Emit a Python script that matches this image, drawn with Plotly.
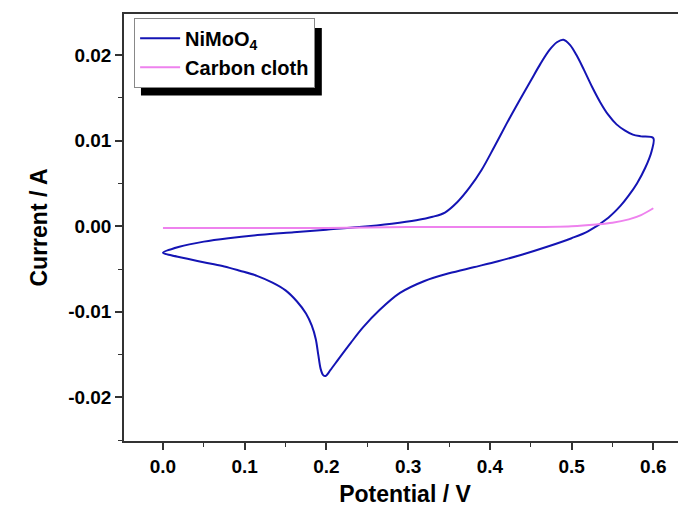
import plotly.graph_objects as go

# NiMoO4 cyclic voltammogram (anodic sweep then cathodic sweep)
nimoo4_fwd_potential = [0.0, 0.02, 0.05, 0.08, 0.12, 0.16, 0.20, 0.24, 0.28, 0.31, 0.33, 0.345,
                        0.36, 0.375, 0.39, 0.405, 0.42, 0.435, 0.45, 0.462, 0.473, 0.482, 0.49,
                        0.498, 0.506, 0.515, 0.525, 0.535, 0.545, 0.555, 0.565, 0.575, 0.585, 0.6]
nimoo4_fwd_current = [-0.0031, -0.0024, -0.0018, -0.0014, -0.0010, -0.0007, -0.0004, -0.0001,
                      0.0003, 0.0007, 0.0011, 0.0016, 0.0028, 0.0045, 0.0066, 0.0092, 0.0119,
                      0.0145, 0.0170, 0.0190, 0.0206, 0.0215, 0.0218, 0.0212, 0.0200, 0.0183,
                      0.0163, 0.0145, 0.0130, 0.0119, 0.0112, 0.0107, 0.0105, 0.0103]
nimoo4_rev_potential = [0.598, 0.59, 0.58, 0.57, 0.56, 0.545, 0.52, 0.50, 0.47, 0.44, 0.41, 0.38,
                        0.35, 0.32, 0.29, 0.265, 0.245, 0.23, 0.215, 0.205, 0.199, 0.196, 0.193,
                        0.19, 0.187, 0.182, 0.175, 0.164, 0.15, 0.134, 0.115, 0.094, 0.075, 0.054,
                        0.03, 0.01, 0.0]
nimoo4_rev_current = [0.0088, 0.0068, 0.0050, 0.0036, 0.0024, 0.0010, -0.0006, -0.0014, -0.0024,
                      -0.0033, -0.0041, -0.0048, -0.0055, -0.0064, -0.0078, -0.0098, -0.0118,
                      -0.0136, -0.0155, -0.0168, -0.0175, -0.0174, -0.0167, -0.0150, -0.0132,
                      -0.0116, -0.0102, -0.0088, -0.0075, -0.0066, -0.0058, -0.0052, -0.0047,
                      -0.0043, -0.0038, -0.0034, -0.0031]

# Carbon cloth
cc_potential = [0.0, 0.1, 0.2, 0.3, 0.4, 0.45, 0.5, 0.53, 0.55, 0.57, 0.585, 0.6]
cc_current = [-0.0002, -0.0002, -0.0002, -0.0001, -0.0001, -0.0001, 0.0000, 0.0002, 0.0004,
              0.0008, 0.0013, 0.0021]

x_ticks = [0.0, 0.1, 0.2, 0.3, 0.4, 0.5, 0.6]
y_ticks = [-0.02, -0.01, 0.0, 0.01, 0.02]

fig = go.Figure()
fig.add_trace(go.Scatter(
    x=nimoo4_fwd_potential + nimoo4_rev_potential,
    y=nimoo4_fwd_current + nimoo4_rev_current,
    mode="lines", name="NiMoO<sub>4</sub>",
    line=dict(color="#1414B4", width=2, shape="spline", smoothing=0.9)))
fig.add_trace(go.Scatter(
    x=cc_potential, y=cc_current, mode="lines", name="Carbon cloth",
    line=dict(color="#EE82EE", width=2, shape="spline", smoothing=0.9)))

font = "Liberation Sans, Arial, sans-serif"

axis_common = dict(
    showline=True, linecolor="#333333", linewidth=1.5,
    ticks="outside", ticklen=7, tickwidth=1.5, tickcolor="#333333",
    showgrid=False, zeroline=False,
    tickfont=dict(family=font, size=19, color="black", weight="bold"),
    minor=dict(ticks="outside", ticklen=4, tickwidth=1.2, tickcolor="#333333", showgrid=False),
)

fig.update_layout(
    width=686, height=515,
    margin=dict(l=116, r=8, t=4, b=82),
    paper_bgcolor="white", plot_bgcolor="white",
    xaxis=dict(axis_common, range=[-0.0477, 0.64], tickvals=x_ticks,
               ticktext=[f"{v:.1f}" for v in x_ticks], mirror=True,
               minor=dict(axis_common["minor"], dtick=0.05, tick0=0),
               title=dict(text="Potential / V", standoff=10,
                          font=dict(family=font, size=23, color="black", weight="bold"))),
    yaxis=dict(axis_common, range=[-0.0251, 0.0248], tickvals=y_ticks,
               ticktext=[f"{v:.2f}" for v in y_ticks],
               minor=dict(axis_common["minor"], dtick=0.005, tick0=0),
               title=dict(text="Current / A", standoff=14,
                          font=dict(family=font, size=23, color="black", weight="bold"))),
    legend=dict(x=0.018, y=0.991, xanchor="left", yanchor="top",
                bgcolor="white", bordercolor="#888888", borderwidth=1,
                font=dict(family=font, size=20, color="black", weight="bold"),
                tracegroupgap=0, itemwidth=40),
    showlegend=True,
    shapes=[dict(type="rect", xref="paper", yref="paper",
                 x0=0.0302, x1=0.352, y0=0.809, y1=0.967,
                 fillcolor="black", line=dict(width=0), layer="below")],
)

fig.write_html("out.html")
